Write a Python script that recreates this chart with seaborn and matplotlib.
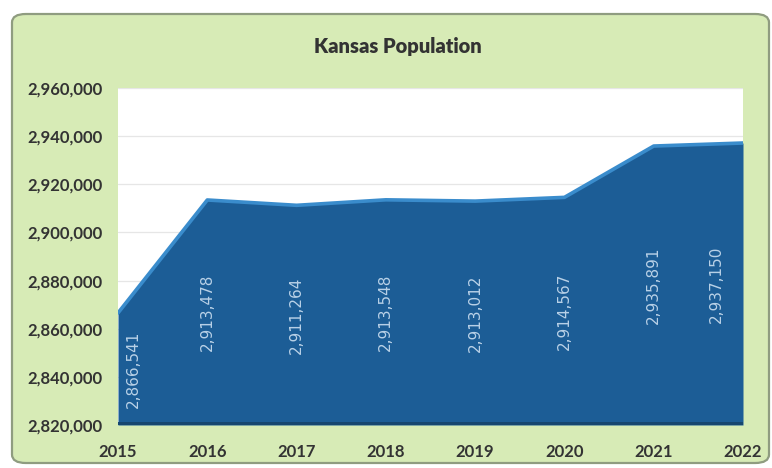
import matplotlib
matplotlib.use("Agg")
import matplotlib.pyplot as plt
from matplotlib.patches import FancyBboxPatch
from matplotlib.ticker import FuncFormatter
import seaborn as sns
import pandas as pd

years = [2015, 2016, 2017, 2018, 2019, 2020, 2021, 2022]
population = [2866541, 2913478, 2911264, 2913548, 2913012, 2914567, 2935891, 2937150]
y_ticks = [2820000, 2840000, 2860000, 2880000, 2900000, 2920000, 2940000, 2960000]
title = "Kansas Population"

df = pd.DataFrame({"Year": years, "Population": population})

sns.set_theme(style="white")
plt.rcParams["font.family"] = ["Lato", "DejaVu Sans"]

fig = plt.figure(figsize=(7.72, 4.68), dpi=100)
fig.patch.set_facecolor("white")

# green chart panel with rounded corners
panel = FancyBboxPatch((12 / 772, 1 - 463 / 468), 757 / 772, 449 / 468,
                       boxstyle="round,pad=0,rounding_size=0.018",
                       transform=fig.transFigure, facecolor="#d7ebb6",
                       edgecolor="#8f9c80", linewidth=1.6, zorder=-5)
fig.patches.append(panel)

ax = fig.add_axes([118 / 772, 1 - 425 / 468, (743 - 118) / 772, (425 - 88) / 468])
ax.set_zorder(2)
ax.set_facecolor("white")

ymin, ymax = y_ticks[0], y_ticks[-1]
ax.fill_between(df["Year"], ymin, df["Population"], color="#1c5d96", linewidth=0, zorder=2)
# darker base strip of the area
ax.fill_between(df["Year"], ymin, ymin + 1400, color="#16466f", linewidth=0, zorder=3)
sns.lineplot(data=df, x="Year", y="Population", ax=ax, color="#3a8ccc",
             linewidth=2.6, zorder=4, legend=False)

for x, v in zip(years, population):
    xo = x
    if x == years[0]:
        xo = x + 0.17
    elif x == years[-1]:
        xo = x - 0.3
    ax.text(xo, (ymin + v) / 2, f"{v:,}", rotation=90, ha="center", va="center",
            color="#b9d1e7", fontsize=11, family=["DejaVu Sans"], zorder=5)

ax.set_xlim(years[0], years[-1])
ax.set_ylim(ymin, ymax)
ax.set_xticks(years)
ax.set_yticks(y_ticks)
ax.yaxis.set_major_formatter(FuncFormatter(lambda v, p: f"{int(v):,}"))
ax.grid(axis="y", color="#e6e6e6", linewidth=0.9, zorder=1)
ax.set_axisbelow(True)
for s in ax.spines.values():
    s.set_visible(False)
ax.tick_params(axis="both", length=0, labelsize=12, labelcolor="#333333")
ax.tick_params(axis="x", pad=14)
ax.tick_params(axis="y", pad=11)
for lab in ax.get_xticklabels() + ax.get_yticklabels():
    lab.set_fontweight("bold")
ax.set_xlabel("")
ax.set_ylabel("")

fig.text(398 / 772, 1 - 46 / 468, title, ha="center", va="center",
         fontsize=14.5, fontweight="heavy", color="#333333")

fig.savefig("out.png", dpi=100)
